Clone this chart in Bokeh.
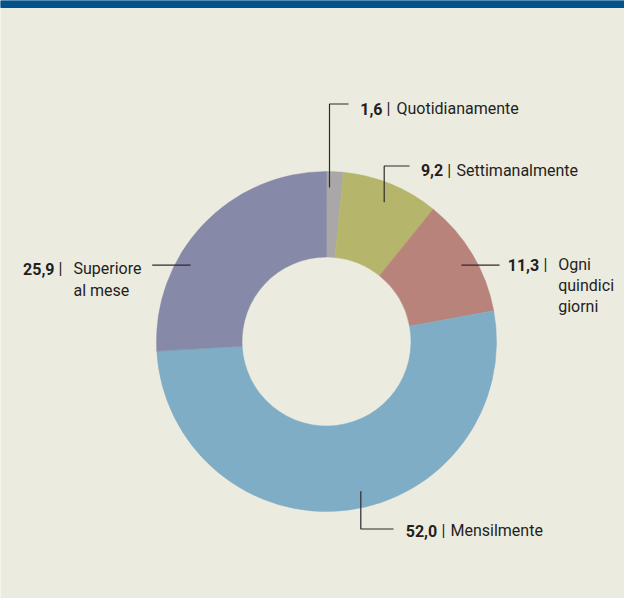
import numpy as np
from bokeh.plotting import figure
from bokeh.models import Range1d, ColumnDataSource
from bokeh.core.properties import value
from bokeh.embed import file_html
from bokeh.resources import INLINE

# ---- data ----
categories = ["Quotidianamente", "Settimanalmente", "Ogni quindici giorni",
              "Mensilmente", "Superiore al mese"]
shares = [1.6, 9.2, 11.3, 52.0, 25.9]
label_lines = [["Quotidianamente"], ["Settimanalmente"], ["Ogni", "quindici", "giorni"],
               ["Mensilmente"], ["Superiore", "al mese"]]

# ---- styles ----
slice_colors = ["#a9a7a7", "#b5b66b", "#b8837b", "#7eadc5", "#8689a7"]
BG = "#ecebe0"
BAR = "#03528c"
INK = "#231f20"
FONT = "Roboto"
FS = "16px"

W, H = 624, 598


def fx(X):
    return X - 4


def fy(Y):
    return H - Y


p = figure(width=W, height=H, x_range=Range1d(0, W), y_range=Range1d(0, H),
           output_backend="svg", toolbar_location=None, min_border=0,
           x_axis_location=None, y_axis_location=None)
p.grid.visible = False
p.outline_line_color = None
p.background_fill_color = BG
p.border_fill_color = BG

# top bar
p.quad(left=0, right=W, top=H, bottom=H - 7, color=BAR)

# donut
total = sum(shares)
cum = np.concatenate([[0.0], np.cumsum(shares)]) / total
starts = [np.pi / 2 - 2 * np.pi * cum[i + 1] for i in range(len(shares))]
ends = [np.pi / 2 - 2 * np.pi * cum[i] for i in range(len(shares))]
src = ColumnDataSource(dict(cat=categories, share=shares, start=starts, end=ends,
                            color=slice_colors))
cx, cy = fx(330), fy(341)
p.annular_wedge(x=cx, y=cy, inner_radius=84.5, outer_radius=170,
                start_angle="start", end_angle="end", color="color",
                line_color="color", line_width=0.5, source=src)

# label layout (reference coords): number right edge, baseline y, bar x, label x,
# line step, leader path
layout = [
    dict(ne=386, by=108, bx=392, lx=400, step=21,
         path=[(333, 187), (333, 103.5), (352, 103.5)]),
    dict(ne=446.7, by=169.5, bx=452.7, lx=460, step=21,
         path=[(387.7, 201.7), (387.7, 165.5), (413, 165.5)]),
    dict(ne=542.7, by=264, bx=549, lx=561.7, step=21,
         path=[(465, 264.7), (503, 264.7)]),
    dict(ne=440.7, by=530, bx=447, lx=454, step=21,
         path=[(364.3, 490.7), (364.3, 528.5), (397, 528.5)]),
    dict(ne=58, by=268, bx=64, lx=77, step=21.7,
         path=[(155.7, 264.7), (194, 264.7)]),
]

for v, lines, L in zip(shares, label_lines, layout):
    num = f"{v:.1f}".replace(".", ",")
    p.text(x=[fx(L["ne"])], y=[fy(L["by"])], text=[num], text_font=value(FONT),
           text_font_size=FS, text_font_style="bold", text_color=INK,
           text_baseline="alphabetic", text_align="right")
    p.text(x=[fx(L["bx"])], y=[fy(L["by"])], text=["|"], text_font=value(FONT),
           text_font_size=FS, text_color=INK, text_baseline="alphabetic",
           text_align="center")
    ys = [fy(L["by"] + k * L["step"]) for k in range(len(lines))]
    p.text(x=[fx(L["lx"])] * len(lines), y=ys, text=lines, text_font=value(FONT),
           text_font_size=FS, text_color=INK, text_baseline="alphabetic",
           text_align="left")
    xs = [fx(a) for a, b in L["path"]]
    yv = [fy(b) for a, b in L["path"]]
    p.line(xs, yv, line_color="#2b2b2b", line_width=1.2)

open("out.html", "w").write(file_html(p, INLINE))
